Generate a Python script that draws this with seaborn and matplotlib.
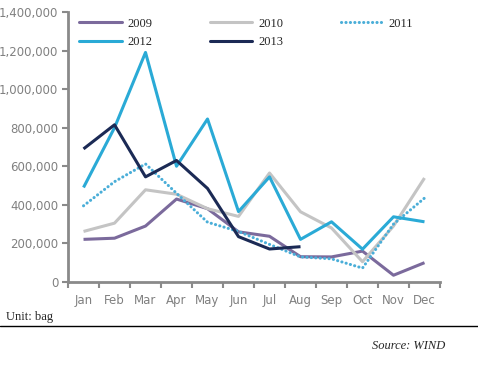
import numpy as np
import pandas as pd
import seaborn as sns
import matplotlib.pyplot as plt
from matplotlib.ticker import FuncFormatter, FixedLocator
from matplotlib.lines import Line2D

months = ['Jan', 'Feb', 'Mar', 'Apr', 'May', 'Jun', 'Jul', 'Aug', 'Sep', 'Oct', 'Nov', 'Dec']
y2009 = [221000, 227000, 290000, 430000, 380000, 260000, 237000, 131000, 130000, 160000, 35000, 100000]
y2010 = [262000, 305000, 478000, 455000, 380000, 340000, 565000, 364000, 280000, 105000, 290000, 539000]
y2011 = [395000, 520000, 612000, 460000, 310000, 262000, 195000, 130000, 120000, 72000, 300000, 435000]
y2012 = [490000, 800000, 1190000, 600000, 845000, 365000, 545000, 221000, 312000, 170000, 338000, 312000]
y2013 = [690000, 815000, 545000, 630000, 485000, 235000, 171000, 183000]

years = ['2009', '2010', '2011', '2012', '2013']
series = [y2009, y2010, y2011, y2012, y2013]
colors = ['#7b6a9c', '#c4c4c4', '#4aaed8', '#2aaad6', '#1b2a55']

rows = []
for yr, vals in zip(years, series):
    for m, v in zip(months, vals):
        rows.append({'month': m, 'value': v, 'year': yr})
df = pd.DataFrame(rows)

sns.set_style('white')
fig = plt.figure(figsize=(4.78, 3.73), dpi=100)
ax = fig.add_axes([0.1423, 0.244, 0.7782, 0.724])

dots = (0.05, 1.4)
sns.lineplot(data=df, x='month', y='value', hue='year', style='year',
             palette=dict(zip(years, colors)),
             dashes={'2009': '', '2010': '', '2011': dots, '2012': '', '2013': ''},
             linewidth=2.2, sort=False, ax=ax, legend=False)
for ln in ax.get_lines():
    ln.set_solid_capstyle('butt')
    ln.set_dash_capstyle('round')

ax.set_xlim(-0.5, 11.5)
ax.set_ylim(0, 1400000)
ax.set_yticks(np.arange(0, 1400001, 200000))
ax.yaxis.set_major_formatter(FuncFormatter(lambda v, p: f'{int(v):,}'))
ax.set_xticks(range(12))
ax.set_xticklabels(months)
ax.xaxis.set_minor_locator(FixedLocator(np.arange(-0.5, 12, 1)))
ax.tick_params(axis='x', which='major', length=0, pad=9, labelsize=8.5, labelcolor='#808080')
ax.tick_params(axis='x', which='minor', length=4, width=1.5, color='#8a8a8a', direction='out', bottom=True)
ax.tick_params(axis='y', length=4, width=1.5, color='#8a8a8a', direction='out', left=True,
               labelsize=8.5, labelcolor='#808080', pad=3)
ax.set_xlabel('')
ax.set_ylabel('')
for s in ['top', 'right']:
    ax.spines[s].set_visible(False)
for s in ['left', 'bottom']:
    ax.spines[s].set_color('#8a8a8a')
    ax.spines[s].set_linewidth(2)

# legend: row-wise order 2009 2010 2011 / 2012 2013
handles = {}
for yr, c in zip(years, colors):
    if yr == '2011':
        handles[yr] = Line2D([], [], color=c, lw=2.2, linestyle=(0, dots), dash_capstyle='round')
    else:
        handles[yr] = Line2D([], [], color=c, lw=2.2)
order = ['2009', '2012', '2010', '2013', '2011']
leg = ax.legend([handles[y] for y in order], order, ncol=3, loc='upper left',
                bbox_to_anchor=(0.0, 1.02),
                frameon=False, prop={'family': 'Liberation Serif', 'size': 9},
                handlelength=3.4, columnspacing=4.6, handletextpad=0.45, labelspacing=0.5)
for h in leg.get_lines():
    h.set_dash_capstyle('round')

fig.text(0.012, 0.151, 'Unit: bag', family='Liberation Serif', fontsize=9, ha='left', va='center')
fig.add_artist(Line2D([0, 1], [0.126, 0.126], transform=fig.transFigure, color='black', lw=1))
fig.text(0.932, 0.072, 'Source: WIND', family='Liberation Serif', style='italic', fontsize=9,
         ha='right', va='center')

fig.savefig('out.png', dpi=100)
